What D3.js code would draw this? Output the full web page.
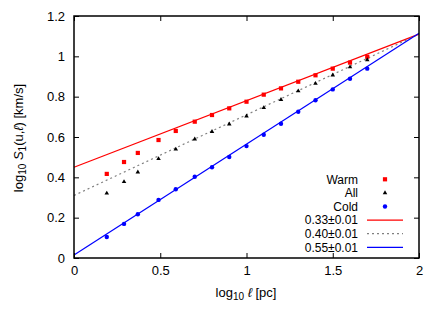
<!DOCTYPE html>
<html>
<head>
<meta charset="utf-8">
<script src="https://cdn.jsdelivr.net/npm/d3@7"></script>
<style>
  body { margin: 0; background: #fff; }
  svg { font-family: "Liberation Sans", Arial, sans-serif; }
</style>
</head>
<body>
<svg id="chart" width="447" height="313"></svg>
<script>
// data
var xs = [0.19, 0.29, 0.37, 0.49, 0.59, 0.70, 0.80, 0.90, 1.0, 1.1, 1.2, 1.3, 1.4, 1.5, 1.6, 1.7];
var warm = [0.417, 0.476, 0.521, 0.585, 0.630, 0.676, 0.709, 0.742, 0.775, 0.810, 0.841, 0.874, 0.906, 0.939, 0.969, 0.998];
var all = [0.321, 0.378, 0.426, 0.492, 0.539, 0.589, 0.626, 0.664, 0.703, 0.745, 0.785, 0.828, 0.865, 0.907, 0.947, 0.982];
var cold = [0.104, 0.169, 0.217, 0.288, 0.341, 0.403, 0.450, 0.501, 0.555, 0.611, 0.666, 0.725, 0.782, 0.836, 0.889, 0.939];
// fits: slope, intercept
var fits = [
  {label: "0.33\u00b10.01", slope: 0.33, icpt: 0.45, color: "#ff0000", dash: null},
  {label: "0.40\u00b10.01", slope: 0.40, icpt: 0.31, color: "#808080", dash: "2,3"},
  {label: "0.55\u00b10.01", slope: 0.55, icpt: 0.015, color: "#0000ff", dash: null}
];
var xTicks = [0, 0.5, 1, 1.5, 2];
var yTicks = [0, 0.2, 0.4, 0.6, 0.8, 1, 1.2];

var svg = d3.select("#chart");
var pl = 74, pr = 419, pt = 16, pb = 258;
var x = d3.scaleLinear().domain([0, 2]).range([pl, pr]);
var y = d3.scaleLinear().domain([0, 1.2]).range([pb, pt]);
var fs = 13;

// fit lines
var line = d3.line().x(d => x(d[0])).y(d => y(d[1]));
fits.forEach(function(f){
  svg.append("path")
    .attr("d", line([[0, f.icpt], [2, f.icpt + 2*f.slope]]))
    .attr("stroke", f.color).attr("stroke-width", 1.2).attr("fill", "none")
    .attr("stroke-dasharray", f.dash);
});

// points
var sq = 4.2;
svg.selectAll(".warm").data(xs).enter().append("rect")
  .attr("x", (d,i) => x(d)-sq/2).attr("y", (d,i) => y(warm[i])-sq/2)
  .attr("width", sq).attr("height", sq).attr("fill", "#ff0000");
var tri = d3.symbol().type(d3.symbolTriangle).size(9);
svg.selectAll(".all").data(xs).enter().append("path")
  .attr("d", tri)
  .attr("transform", (d,i) => "translate(" + x(d) + "," + y(all[i]) + ")")
  .attr("fill", "#000");
svg.selectAll(".cold").data(xs).enter().append("circle")
  .attr("cx", d => x(d)).attr("cy", (d,i) => y(cold[i]))
  .attr("r", 2.2).attr("fill", "#0000ff");

// axes, gnuplot style ticks inside and mirrored
var tl = 5;
svg.append("g").attr("transform", "translate(0," + pb + ")")
  .call(d3.axisBottom(x).tickValues(xTicks).tickSize(-tl).tickPadding(8).tickFormat(d3.format("~g")));
svg.append("g").attr("transform", "translate(0," + pt + ")")
  .call(d3.axisTop(x).tickValues(xTicks).tickSize(-tl).tickFormat(""));
svg.append("g").attr("transform", "translate(" + pl + ",0)")
  .call(d3.axisLeft(y).tickValues(yTicks).tickSize(-tl).tickPadding(9).tickFormat(d3.format("~g")));
svg.append("g").attr("transform", "translate(" + pr + ",0)")
  .call(d3.axisRight(y).tickValues(yTicks).tickSize(-tl).tickFormat(""));
svg.selectAll(".domain").remove();
svg.selectAll(".tick line").attr("stroke", "#000").attr("stroke-width", 1);
svg.selectAll(".tick text").attr("font-size", fs).attr("fill", "#000")
  .attr("font-family", "Liberation Sans, Arial, sans-serif");
svg.append("rect").attr("x", pl).attr("y", pt)
  .attr("width", pr-pl).attr("height", pb-pt)
  .attr("fill", "none").attr("stroke", "#000").attr("stroke-width", 1.5);

// legend
var lx = 358, ly = 179.3, dy = 13.6, lfs = 12;
var marks = ["Warm", "All", "Cold"];
marks.forEach(function(m, i){
  svg.append("text").attr("x", lx).attr("y", ly + i*dy).attr("dy", "0.35em")
    .attr("text-anchor", "end").attr("font-size", lfs).text(m);
});
svg.append("rect").attr("x", 385-sq/2).attr("y", ly-sq/2).attr("width", sq).attr("height", sq).attr("fill", "#ff0000");
svg.append("path").attr("d", tri).attr("transform", "translate(385," + (ly+dy) + ")").attr("fill", "#000");
svg.append("circle").attr("cx", 385).attr("cy", ly+2*dy).attr("r", 2.2).attr("fill", "#0000ff");
fits.forEach(function(f, i){
  var yy = ly + (i+3)*dy;
  svg.append("text").attr("x", lx).attr("y", yy).attr("dy", "0.35em")
    .attr("text-anchor", "end").attr("font-size", lfs).text(f.label);
  svg.append("line").attr("x1", 367).attr("x2", 403).attr("y1", yy).attr("y2", yy)
    .attr("stroke", f.color).attr("stroke-width", 1.2).attr("stroke-dasharray", f.dash);
});

// axis labels
var xl = svg.append("text").attr("x", 246).attr("y", 297).attr("text-anchor", "middle").attr("font-size", fs);
xl.append("tspan").text("log");
xl.append("tspan").attr("dy", 3).attr("font-size", 10).text("10");
xl.append("tspan").attr("dy", -3).attr("font-style", "italic").text(" \u2113");
xl.append("tspan").text(" [pc]");

var yl = svg.append("text").attr("transform", "translate(23,138) rotate(-90)")
  .attr("text-anchor", "middle").attr("font-size", fs);
yl.append("tspan").text("log");
yl.append("tspan").attr("dy", 3).attr("font-size", 10).text("10");
yl.append("tspan").attr("dy", -3).attr("font-style", "italic").text(" S");
yl.append("tspan").attr("dy", 3).attr("font-size", 10).text("1");
yl.append("tspan").attr("dy", -3).text("(u,");
yl.append("tspan").attr("font-style", "italic").text("\u2113");
yl.append("tspan").text(") [km/s]");
</script>
</body>
</html>
